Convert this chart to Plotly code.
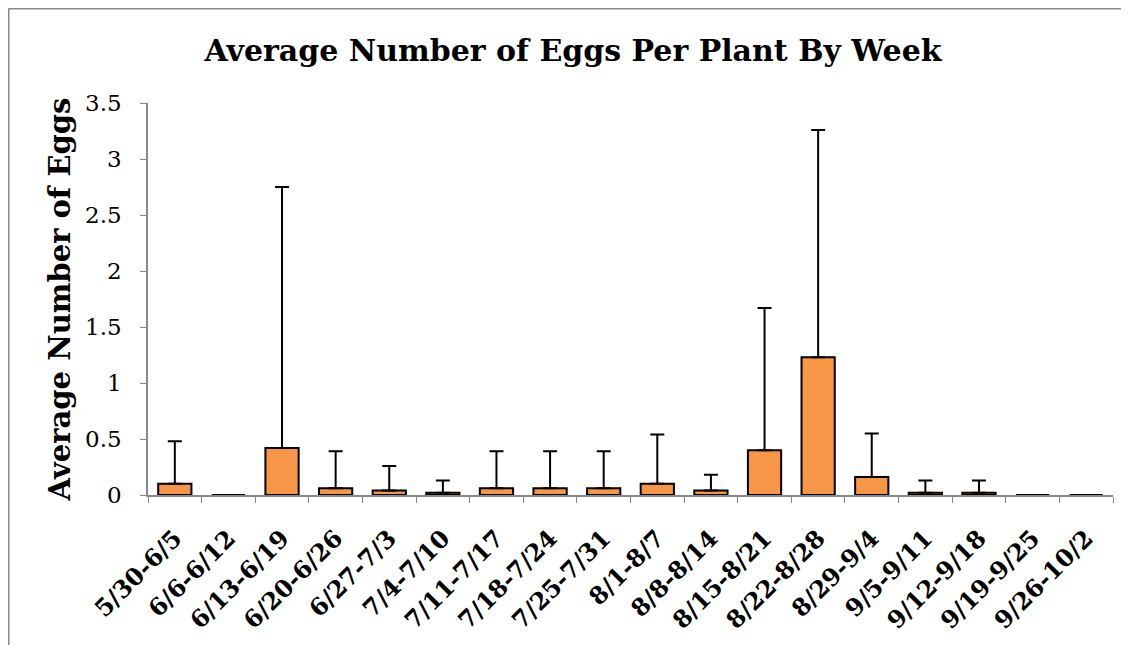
import plotly.graph_objects as go

weeks = ["5/30-6/5", "6/6-6/12", "6/13-6/19", "6/20-6/26", "6/27-7/3", "7/4-7/10",
         "7/11-7/17", "7/18-7/24", "7/25-7/31", "8/1-8/7", "8/8-8/14", "8/15-8/21",
         "8/22-8/28", "8/29-9/4", "9/5-9/11", "9/12-9/18", "9/19-9/25", "9/26-10/2"]
avg_eggs = [0.10, 0.0, 0.42, 0.06, 0.04, 0.02, 0.06, 0.06, 0.06, 0.10, 0.04, 0.40,
            1.23, 0.16, 0.02, 0.02, 0.0, 0.0]
err_plus = [0.38, None, 2.33, 0.33, 0.22, 0.11, 0.33, 0.33, 0.33, 0.44, 0.14, 1.27,
            2.03, 0.39, 0.11, 0.11, None, None]
err_minus = [0 if e is not None else None for e in err_plus]
y_ticks = [0, 0.5, 1, 1.5, 2, 2.5, 3, 3.5]
y_tick_text = ["0", "0.5", "1", "1.5", "2", "2.5", "3", "3.5"]

W, H = 1129, 645
OFF = 8  # page body margin
L, R, T, B = 148 - OFF, 24, 103 - OFF, 158
pw, ph = W - L - R, H - T - B

fig = go.Figure(go.Bar(
    x=weeks, y=avg_eggs,
    marker=dict(color="#F79646", line=dict(color="black", width=2)),
    error_y=dict(type="data", symmetric=False, array=err_plus, arrayminus=err_minus,
                 color="black", thickness=2, width=7),
))

serif = "DejaVu Serif"
fig.update_layout(
    width=W, height=H,
    margin=dict(l=L, r=R, t=T, b=B, autoexpand=False),
    paper_bgcolor="white", plot_bgcolor="white",
    bargap=0.38,
    showlegend=False,
    title=dict(text="<b>Average Number of Eggs Per Plant By Week</b>",
               x=(573 - OFF) / W, xanchor="center", y=1 - (50 - OFF) / H, yanchor="middle",
               font=dict(family=serif, size=30, color="black")),
    xaxis=dict(
        type="category", tickson="boundaries", ticks="outside", ticklen=6,
        tickcolor="#888888", showline=True, linecolor="#888888", linewidth=1.5,
        tickangle=-45, showgrid=False, ticklabelstandoff=18,
        tickfont=dict(family=serif, size=24, color="black"),
        tickprefix="<b>", ticksuffix="</b>",
    ),
    yaxis=dict(
        range=[0, 3.5], tickvals=y_ticks, ticktext=y_tick_text,
        ticks="outside", ticklen=6, tickcolor="#888888",
        showline=True, linecolor="#888888", linewidth=1.5, showgrid=False,
        zeroline=False, ticklabelstandoff=14,
        tickfont=dict(family=serif, size=23, color="black"),
        title=dict(text="<b>Average Number of Eggs</b>", standoff=6,
                   font=dict(family=serif, size=29, color="black")),
    ),
)

# outer chart border (top and left visible)
x_left = (0.5 - L) / pw
y_top = (H - B - 0.5) / ph
x_right = (W + 5 - L) / pw
y_bot = (H - B - (H + 5)) / ph
fig.add_shape(type="line", xref="paper", yref="paper", x0=x_left, x1=x_right,
              y0=y_top, y1=y_top, line=dict(color="#888888", width=2))
fig.add_shape(type="line", xref="paper", yref="paper", x0=x_left, x1=x_left,
              y0=y_bot, y1=y_top, line=dict(color="#888888", width=2))

fig.write_html("out.html")
